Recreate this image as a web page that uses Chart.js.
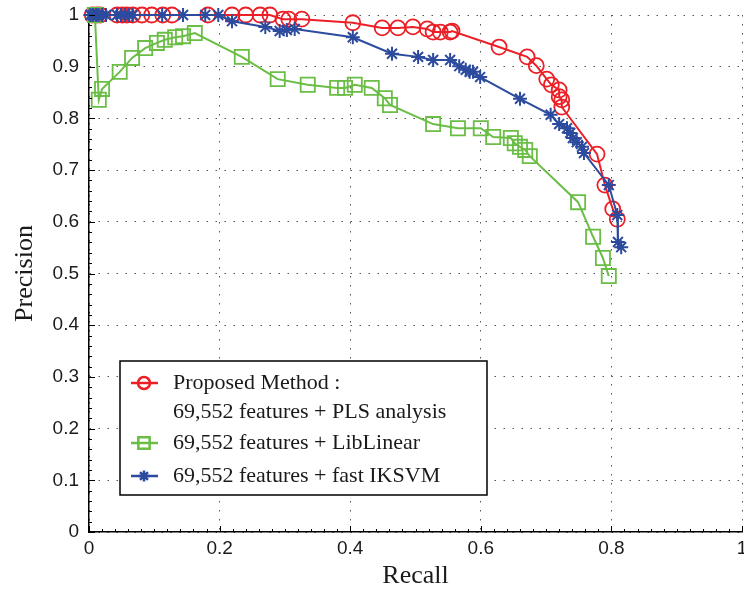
<!DOCTYPE html>
<html lang="en">
<head>
    <meta charset="UTF-8">
    <title>Precision / Recall</title>
    <script src="https://cdn.jsdelivr.net/npm/chart.js"></script>
    <style>
        html, body { margin: 0; padding: 0; background: #fff; overflow: hidden; }
    </style>
</head>
<body>
    <canvas id="prGraph" width="760" height="592"></canvas>

    <script>
        // values
        const xTicks = [0, 0.2, 0.4, 0.6, 0.8, 1];
        const yTicks = [0, 0.1, 0.2, 0.3, 0.4, 0.5, 0.6, 0.7, 0.8, 0.9, 1];

        const seriesLabels = [
            ['Proposed Method :', '69,552 features + PLS analysis'],
            ['69,552 features + LibLinear'],
            ['69,552 features + fast IKSVM']
        ];

        const recallPLS = [0.005, 0.012, 0.017, 0.043, 0.051, 0.058, 0.067, 0.081, 0.096, 0.113, 0.127, 0.182, 0.219, 0.240, 0.262, 0.277,
            0.297, 0.306, 0.326, 0.404, 0.449, 0.473, 0.496, 0.518, 0.527, 0.538, 0.553, 0.556, 0.628, 0.671, 0.685, 0.701, 0.708,
            0.720, 0.720, 0.724, 0.724, 0.778, 0.790, 0.802, 0.809];
        const precisionPLS = [1, 1, 1, 1, 1, 1, 1, 1, 1, 1, 1, 1, 1, 1, 1, 1,
            0.992, 0.992, 0.992, 0.985, 0.975, 0.975, 0.977, 0.973, 0.967, 0.967, 0.967, 0.969, 0.938, 0.919, 0.902, 0.876, 0.865,
            0.855, 0.842, 0.836, 0.822, 0.731, 0.671, 0.625, 0.605];

        const recallLin = [0.009, 0.015, 0.020, 0.047, 0.066, 0.086, 0.104, 0.116, 0.132, 0.144, 0.162, 0.234, 0.289, 0.335, 0.380, 0.392,
            0.407, 0.433, 0.453, 0.461, 0.527, 0.565, 0.600, 0.619, 0.646, 0.652, 0.660, 0.668, 0.675, 0.749, 0.772, 0.787, 0.796];
        const precisionLin = [1.0, 0.836, 0.857, 0.890, 0.917, 0.936, 0.946, 0.952, 0.957, 0.959, 0.965, 0.919, 0.876, 0.865, 0.859, 0.859,
            0.865, 0.859, 0.839, 0.826, 0.789, 0.781, 0.781, 0.764, 0.762, 0.752, 0.745, 0.739, 0.727, 0.638, 0.571, 0.530, 0.495];

        const recallIK = [0.002, 0.006, 0.011, 0.015, 0.020, 0.026, 0.043, 0.049, 0.055, 0.061, 0.067, 0.112, 0.144, 0.178, 0.198,
            0.219, 0.270, 0.292, 0.303, 0.315, 0.404, 0.464, 0.504, 0.527, 0.553, 0.567, 0.577, 0.583, 0.588, 0.599, 0.660, 0.707,
            0.720, 0.732, 0.737, 0.741, 0.747, 0.755, 0.758, 0.796, 0.809, 0.810, 0.815];
        const precisionIK = [1, 1, 1, 1, 1, 1, 1, 1, 1, 1, 1, 1, 1, 1, 1,
            0.988, 0.977, 0.969, 0.971, 0.973, 0.957, 0.925, 0.919, 0.913, 0.913, 0.901, 0.894, 0.890, 0.890, 0.880, 0.838, 0.807,
            0.789, 0.781, 0.772, 0.762, 0.754, 0.745, 0.733, 0.671, 0.613, 0.561, 0.551];

        const red = '#ec1f27';
        const green = '#6abd45';
        const blue = '#2d4b9e';

        const toPoints = (xs, ys) => xs.map((x, i) => ({ x: x, y: ys[i] }));

        // little inward minor ticks on the left and bottom axis
        const minorTicks = {
            id: 'minorTicks',
            afterDraw(chart) {
                const { ctx, chartArea, scales } = chart;
                ctx.save();
                ctx.strokeStyle = '#000';
                ctx.lineWidth = 1;
                ctx.beginPath();
                for (let i = 0; i <= 50; i++) {
                    const py = Math.round(scales.y.getPixelForValue(i / 50)) + 0.5;
                    const len = i % 5 === 0 ? 6 : 3;
                    ctx.moveTo(chartArea.left, py);
                    ctx.lineTo(chartArea.left + len, py);
                    const px = Math.round(scales.x.getPixelForValue(i / 50)) + 0.5;
                    ctx.moveTo(px, chartArea.bottom);
                    ctx.lineTo(px, chartArea.bottom - (i % 10 === 0 ? 6 : 3));
                }
                ctx.stroke();
                ctx.restore();
            }
        };

        // boxed legend with the two-line first entry
        const boxLegend = {
            id: 'boxLegend',
            afterDraw(chart) {
                const ctx = chart.ctx;
                const box = { left: 120, top: 361, width: 367, height: 134 };
                const rows = [383, 443, 476];
                ctx.save();
                ctx.fillStyle = '#fff';
                ctx.fillRect(box.left, box.top, box.width, box.height);
                ctx.strokeStyle = '#000';
                ctx.lineWidth = 1.5;
                ctx.strokeRect(box.left, box.top, box.width, box.height);
                ctx.font = '22px "Liberation Serif", serif';
                ctx.textBaseline = 'middle';
                chart.data.datasets.forEach((ds, i) => {
                    const y = rows[i];
                    ctx.strokeStyle = ds.borderColor;
                    ctx.lineWidth = 2.5;
                    ctx.beginPath();
                    ctx.moveTo(131, y);
                    ctx.lineTo(158, y);
                    ctx.stroke();
                    ctx.fillStyle = 'rgba(255,255,255,0)';
                    Chart.helpers.drawPoint(ctx, {
                        pointStyle: ds.pointStyle,
                        radius: ds.pointRadius * 0.8,
                        borderWidth: 2,
                        rotation: 0
                    }, 144, y);
                    ctx.fillStyle = '#1a1a1a';
                    seriesLabels[i].forEach((line, k) => {
                        ctx.fillText(line, 173, y + k * 29);
                    });
                });
                ctx.restore();
            }
        };

        const ctx = document.getElementById('prGraph').getContext('2d');
        new Chart(ctx, {
            type: 'line',
            data: {
                datasets: [{
                    label: seriesLabels[0].join(' '),
                    data: toPoints(recallPLS, precisionPLS),
                    borderColor: red,
                    backgroundColor: 'rgba(0,0,0,0)',
                    pointStyle: 'circle',
                    pointRadius: 7.5,
                    pointBorderWidth: 1.8,
                    borderWidth: 2,
                    order: 3,
                    clip: false
                }, {
                    label: seriesLabels[1].join(' '),
                    data: toPoints(recallLin, precisionLin),
                    borderColor: green,
                    backgroundColor: 'rgba(0,0,0,0)',
                    pointStyle: 'rect',
                    pointRadius: 10,
                    pointBorderWidth: 1.8,
                    borderWidth: 2,
                    order: 2,
                    clip: false
                }, {
                    label: seriesLabels[2].join(' '),
                    data: toPoints(recallIK, precisionIK),
                    borderColor: blue,
                    backgroundColor: blue,
                    pointStyle: 'star',
                    pointRadius: 7,
                    pointBorderWidth: 2,
                    borderWidth: 2,
                    order: 1,
                    clip: false
                }]
            },
            plugins: [minorTicks, boxLegend],
            options: {
                responsive: false,
                animation: false,
                events: [],
                layout: { padding: { left: 0, right: 18, top: 15, bottom: 0 } },
                plugins: {
                    legend: { display: false },
                    tooltip: { enabled: false }
                },
                scales: {
                    x: {
                        type: 'linear',
                        min: 0,
                        max: 1,
                        afterFit: (scale) => { scale.height = 60; },
                        afterBuildTicks: (scale) => { scale.ticks = xTicks.map(v => ({ value: v })); },
                        ticks: {
                            padding: 5,
                            color: '#1a1a1a',
                            font: { family: '"Liberation Sans", sans-serif', size: 19 },
                            callback: (v) => String(v)
                        },
                        grid: { color: '#555', lineWidth: 1, drawTicks: false },
                        border: { display: true, color: '#000', width: 1.5, dash: [1.5, 7.5] },
                        title: {
                            display: true,
                            text: 'Recall',
                            color: '#1a1a1a',
                            padding: 0,
                            font: { family: '"Liberation Serif", serif', size: 26 }
                        }
                    },
                    y: {
                        min: 0,
                        max: 1,
                        afterFit: (scale) => {
                            scale.width = 89;
                            scale.paddingTop = 0;
                            scale.paddingBottom = 0;
                        },
                        afterBuildTicks: (scale) => { scale.ticks = yTicks.map(v => ({ value: v })); },
                        ticks: {
                            padding: 10,
                            color: '#1a1a1a',
                            font: { family: '"Liberation Sans", sans-serif', size: 19 },
                            callback: (v) => String(v)
                        },
                        grid: { color: '#555', lineWidth: 1, drawTicks: false },
                        border: { display: true, color: '#000', width: 1.5, dash: [1.5, 7.5] },
                        title: {
                            display: true,
                            text: 'Precision',
                            color: '#1a1a1a',
                            padding: { top: 10, bottom: 0 },
                            font: { family: '"Liberation Serif", serif', size: 26 }
                        }
                    }
                }
            }
        });
    </script>
</body>
</html>
